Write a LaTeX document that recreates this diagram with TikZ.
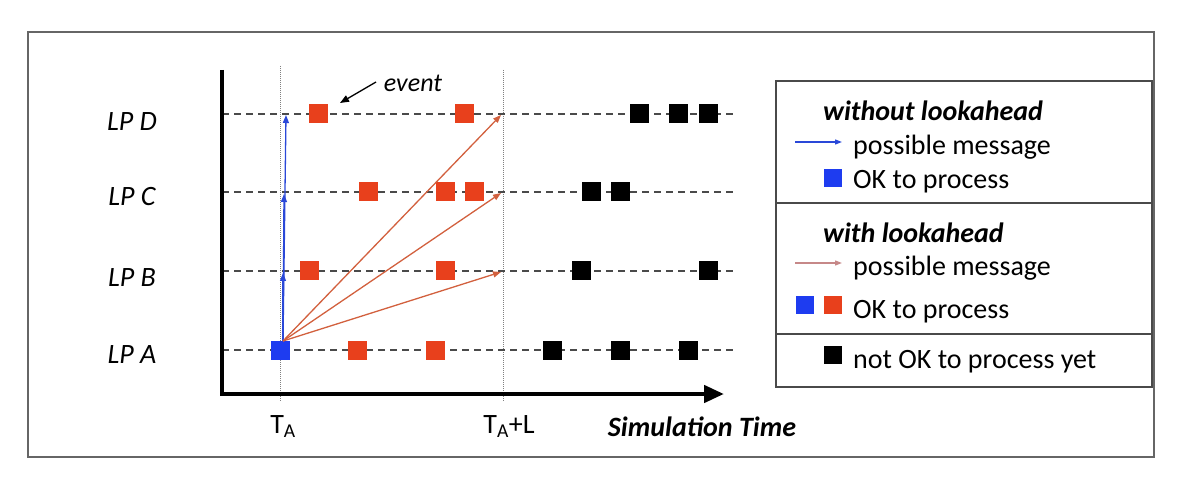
\documentclass[tikz,border=0pt]{standalone}
\usepackage{fontspec}
\setmainfont{Carlito}
\usetikzlibrary{arrows.meta}
\definecolor{sqred}{HTML}{E8401C}
\definecolor{sqblue}{HTML}{1E3CF0}
\definecolor{arrred}{HTML}{D2603E}
\definecolor{arrblue}{HTML}{2A48D8}
\definecolor{pinkarr}{HTML}{C68888}
\definecolor{lanegray}{HTML}{4A4A4A}
\begin{document}
\begin{tikzpicture}[x=1pt,y=-1pt,
  sq/.style={rectangle,minimum size=19pt,inner sep=0pt},
  redsq/.style={sq,fill=sqred},
  bluesq/.style={sq,fill=sqblue},
  blacksq/.style={sq,fill=black},
  lane/.style={lanegray,line width=1.8pt,dash pattern=on 7pt off 5pt},
  guide/.style={gray,line width=0.8pt,dash pattern=on 1pt off 1pt},
  lbl/.style={font=\fontsize{28}{32}\selectfont\itshape},
  txt/.style={font=\fontsize{28}{32}\selectfont,anchor=west,inner sep=0pt},
  hdr/.style={font=\fontsize{28}{32}\selectfont\bfseries\itshape,anchor=west,inner sep=0pt},
  redmsg/.style={arrred,line width=1.3pt,-{Triangle[length=8pt,width=6pt]}},
  bluemsg/.style={arrblue,line width=1.3pt,-{Triangle[length=8pt,width=6pt]}}]
\useasboundingbox (0,0) rectangle (1180,478);
% outer frame
\draw[gray!80!black,line width=2.2pt] (28,32) rectangle (1154,457);
% guides
\coordinate (gat) at (280,66); \coordinate (gab) at (280,402);
\coordinate (glt) at (503,70); \coordinate (glb) at (503,402);
\draw[guide] (gat) -- (gab);
\draw[guide] (glt) -- (glb);
% lanes
\foreach \n/\y in {D/114,C/192,B/271,A/350}{
  \coordinate (l\n s) at (222,\y);
  \coordinate (l\n e) at (737,\y);
  \draw[lane] (l\n s) -- (l\n e);
}
% axes
\coordinate (ytop) at (222,70);
\coordinate (orig) at (222,396);
\coordinate (xend) at (724,394);
\draw[line width=4.5pt] (ytop) -- (orig);
\draw[line width=4.5pt,-{Triangle[length=20pt,width=17pt]}] (220,394) -- (xend);
% lane labels
\node[lbl] (labD) at (132,122) {LP D};
\node[lbl] (labC) at (132,197) {LP C};
\node[lbl] (labB) at (132,278) {LP B};
\node[lbl] (labA) at (132,355) {LP A};
% axis labels
\node[font=\fontsize{28}{32}\selectfont] (ta) at (283,427) {T\textsubscript{A}};
\node[font=\fontsize{28}{32}\selectfont] (tal) at (509,427) {T\textsubscript{A}+L};
\node[font=\fontsize{28}{32}\selectfont\bfseries\itshape] (simt) at (702,427) {Simulation Time};
% squares
\node[bluesq] (a0) at (280,350) {};
\node[redsq] (a1) at (357,350) {};
\node[redsq] (a2) at (435,350) {};
\node[blacksq] (a3) at (552,350) {};
\node[blacksq] (a4) at (620,350) {};
\node[blacksq] (a5) at (688,350) {};
\node[redsq] (b1) at (309,271) {};
\node[redsq] (b2) at (445,271) {};
\node[blacksq] (b3) at (581,271) {};
\node[blacksq] (b4) at (708,271) {};
\node[redsq] (c1) at (368,192) {};
\node[redsq] (c2) at (445,192) {};
\node[redsq] (c3) at (474,192) {};
\node[blacksq] (c4) at (591,192) {};
\node[blacksq] (c5) at (620,192) {};
\node[redsq] (d1) at (318,114) {};
\node[redsq] (d2) at (464,114) {};
\node[blacksq] (d3) at (639,114) {};
\node[blacksq] (d4) at (678,114) {};
\node[blacksq] (d5) at (708,114) {};
% message targets
\coordinate (src) at (283,341);
\coordinate (tb) at (283,273);
\coordinate (tc) at (284,194);
\coordinate (td) at (286,115);
\coordinate (rb) at (501,272);
\coordinate (rc) at (501,193);
\coordinate (rd) at (501,115);
\draw[bluemsg] (src) -- (tb);
\draw[bluemsg] (src) -- (tc);
\draw[bluemsg] (src) -- (td);
\draw[redmsg] (src) -- (rb);
\draw[redmsg] (src) -- (rc);
\draw[redmsg] (src) -- (rd);
% event annotation
\node[font=\fontsize{26}{30}\selectfont\itshape] (ev) at (413,83) {event};
\coordinate (evt) at (340,103);
\draw[line width=1.3pt,-{Triangle[length=9pt,width=7pt]}] (376,82) -- (evt);
% legend
\draw[lanegray,line width=1.5pt] (776,81) rectangle (1152,387);
\draw[lanegray,line width=1.5pt] (776,203) -- (1152,203);
\draw[lanegray,line width=1.5pt] (776,334) -- (1152,334);
\node[hdr] (h1) at (823,111) {without lookahead};
\coordinate (la1) at (795,142); \coordinate (lb1) at (842,142);
\draw[arrblue,line width=1.2pt,-{Triangle[length=7pt,width=5pt]}] (la1) -- (lb1);
\node[txt] (t1) at (853,147) {possible message};
\node[bluesq,minimum size=18pt] (ls1) at (833,178) {};
\node[txt] (t2) at (853,182) {OK to process};
\node[hdr] (h2) at (823,233) {with lookahead};
\coordinate (la2) at (795,263); \coordinate (lb2) at (842,263);
\draw[pinkarr,line width=1.2pt,-{Triangle[length=7pt,width=5pt]}] (la2) -- (lb2);
\node[txt] (t3) at (853,268) {possible message};
\node[bluesq,minimum size=18pt] (ls2) at (805,305) {};
\node[redsq,minimum size=18pt] (ls3) at (833,305) {};
\node[txt] (t4) at (853,312) {OK to process};
\node[blacksq,minimum size=18pt] (ls4) at (833,355) {};
\node[txt] (t5) at (853,362) {not OK to process yet};
\end{tikzpicture}
\end{document}
